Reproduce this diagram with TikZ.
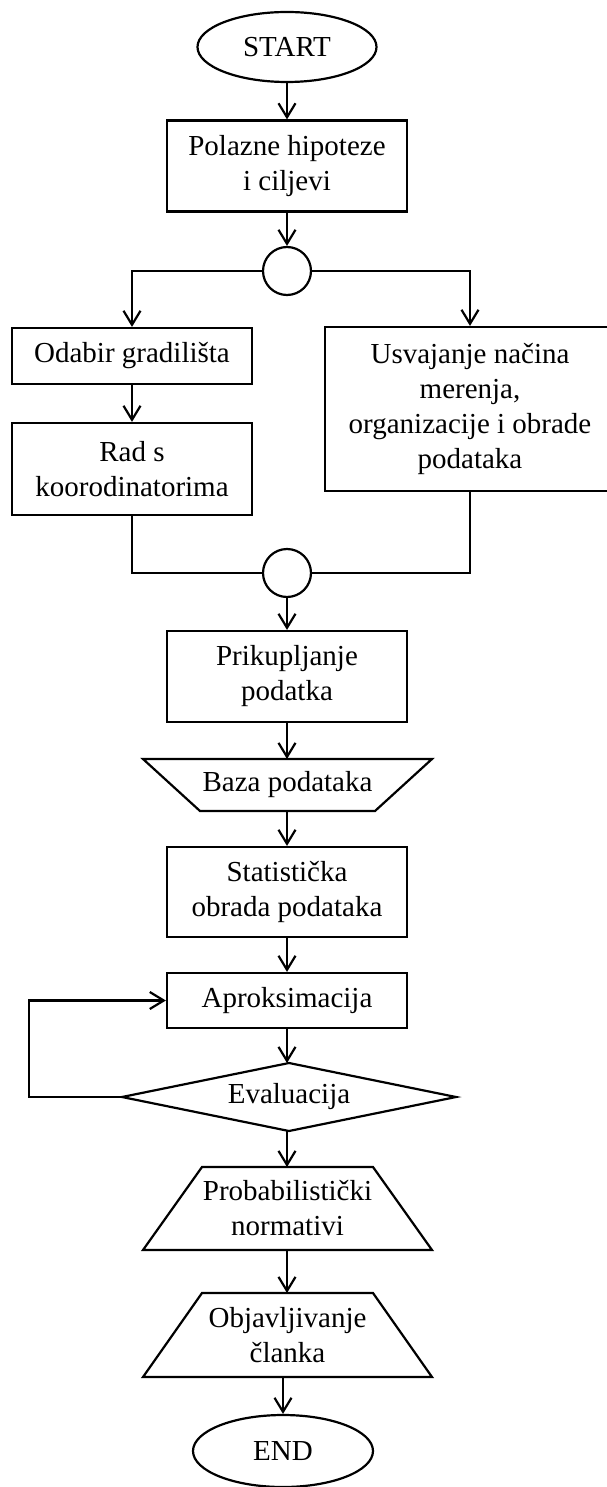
\documentclass[tikz,border=0pt]{standalone}
\usepackage{fontspec}
\setmainfont{Liberation Serif}
\usetikzlibrary{shapes.geometric,arrows.meta}
\tikzset{
  txt/.style={font=\fontsize{29}{35}\selectfont, align=center, inner sep=0pt},
  box/.style={txt, draw, line width=2.2pt, rectangle},
  term/.style={txt, draw, line width=2.2pt, ellipse, minimum width=179, minimum height=70},
  junc/.style={draw, line width=2.2pt, circle, minimum size=48, inner sep=0pt},
  ghost/.style={txt, draw=none, rectangle, outer sep=0pt},
  shapeline/.style={line width=2.2pt, line join=miter},
  conn/.style={line width=2.2pt},
  arr/.style={conn, -{Straight Barb[length=14pt,width=17pt]}}
}
\begin{document}
\begin{tikzpicture}[x=1pt,y=-1pt]
\useasboundingbox (0,0) rectangle (606,1487);
\fill[white] (0,0) rectangle (606,1487);

\node[term] (start) at (287,47) {START};
\node[box, minimum width=240, minimum height=91] (pol) at (287,166) {Polazne hipoteze\\i ciljevi};
\node[junc] (j1) at (287,271) {};
\node[box, minimum width=240, minimum height=56] (odb) at (132,356) {Odabir gradilišta};
\node[box, minimum width=240, minimum height=92] (rad) at (132,469) {Rad s\\koorodinatorima};
\node[box, minimum width=290, minimum height=164] (usv) at (470,409) {Usvajanje načina\\merenja,\\organizacije i obrade\\podataka};
\node[junc] (j2) at (287,573) {};
\node[box, minimum width=240, minimum height=91] (prik) at (287,676.5) {Prikupljanje\\podatka};

\node[ghost, minimum width=289, minimum height=52] (baza) at (287.5,785) {Baza podataka};
\draw[shapeline] (baza.north west) -- (baza.north east) -- ([xshift=-57pt]baza.south east) -- ([xshift=57pt]baza.south west) -- cycle;

\node[box, minimum width=240, minimum height=90] (stat) at (287,892) {Statistička\\obrada podataka};
\node[box, minimum width=240, minimum height=55] (aprox) at (287,1000.5) {Aproksimacija};

\node[ghost, minimum width=334, minimum height=68] (eval) at (289,1097) {Evaluacija};
\draw[shapeline] (eval.west) -- (eval.north) -- (eval.east) -- (eval.south) -- cycle;

\node[ghost, minimum width=289, minimum height=83] (prob) at (287.5,1208.5) {Probabilistički\\normativi};
\draw[shapeline] ([xshift=59pt]prob.north west) -- ([xshift=-59pt]prob.north east) -- (prob.south east) -- (prob.south west) -- cycle;

\node[ghost, minimum width=289, minimum height=84] (obj) at (287.5,1335) {Objavljivanje\\članka};
\draw[shapeline] ([xshift=59pt]obj.north west) -- ([xshift=-59pt]obj.north east) -- (obj.south east) -- (obj.south west) -- cycle;

\node[term, minimum width=180, minimum height=72] (end) at (283,1451) {END};

\coordinate (lp) at (29,1097);

\draw[arr] (start) -- (pol);
\draw[arr] (pol) -- (j1);
\draw[arr] (j1.west) -| (odb.north);
\draw[arr] (j1.east) -| (usv.north);
\draw[arr] (odb) -- (rad);
\draw[conn] (rad.south) |- (j2.west);
\draw[conn] (usv.south) |- (j2.east);
\draw[arr] (j2) -- (prik);
\draw[arr] (prik.south) -- (prik.south |- baza.north);
\draw[arr] (stat.north |- baza.south) -- (stat.north);
\draw[arr] (stat) -- (aprox);
\draw[arr] (aprox.south) -- (aprox.south |- eval.north);
\draw[arr] (eval.west) -- (lp) |- (aprox.west);
\draw[arr] (aprox.south |- eval.south) -- (aprox.south |- prob.north);
\draw[arr] (aprox.south |- prob.south) -- (aprox.south |- obj.north);
\draw[arr] (end.north |- obj.south) -- (end.north);
\end{tikzpicture}
\end{document}
